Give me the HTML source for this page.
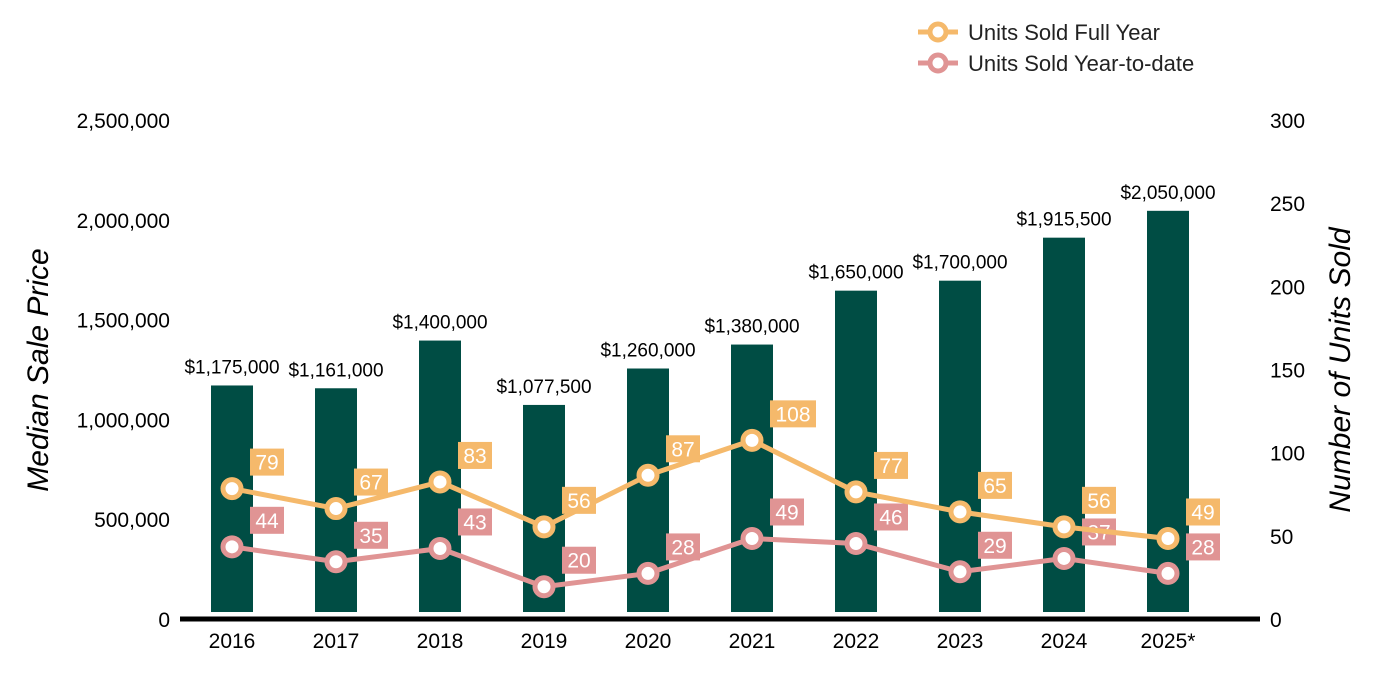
<!DOCTYPE html>
<html><head><meta charset="utf-8"><style>
body{margin:0;background:#fff;}
svg{display:block;font-family:"Liberation Sans",Arial,sans-serif;}
</style></head><body>
<svg id="chart" width="1400" height="700"></svg>
<script>
const years=["2016","2017","2018","2019","2020","2021","2022","2023","2024","2025*"];
const prices=[1175000,1161000,1400000,1077500,1260000,1380000,1650000,1700000,1915500,2050000];
const fullYear=[79,67,83,56,87,108,77,65,56,49];
const ytd=[44,35,43,20,28,49,46,29,37,28];
const leftTicks=[0,500000,1000000,1500000,2000000,2500000];
const rightTicks=[0,50,100,150,200,250,300];

const NS="http://www.w3.org/2000/svg";
const svg=document.getElementById('chart');
function el(t,a,txt){const e=document.createElementNS(NS,t);for(const k in a)e.setAttribute(k,a[k]);if(txt!==undefined)e.textContent=txt;svg.appendChild(e);return e;}
const y0=620,yTop=121;
const yL=v=>y0-(v/2500000)*(y0-yTop);
const yR=v=>y0-(v/300)*(y0-yTop);
const xC=i=>232+i*104;
const fmt=v=>v.toLocaleString('en-US');

leftTicks.forEach(v=>{const t=el('text',{x:170,y:yL(v)+7,'text-anchor':'end','font-size':21,fill:'#000'},fmt(v));
});
rightTicks.forEach(v=>{const t=el('text',{x:1270,y:yR(v)+7,'text-anchor':'start','font-size':21,fill:'#000'},String(v));
});

let t=el('text',{x:48,y:370,'text-anchor':'middle','font-size':30,'font-style':'italic',transform:'rotate(-90 48 370)'},'Median Sale Price');

t=el('text',{x:1350,y:370,'text-anchor':'middle','font-size':30,'font-style':'italic',transform:'rotate(-90 1350 370)'},'Number of Units Sold');


prices.forEach((p,i)=>{
 const b=el('rect',{x:xC(i)-21,y:yL(p),width:42,height:612-yL(p),fill:'#004D44'});
 
 const l=el('text',{x:xC(i),y:yL(p)-12,'text-anchor':'middle','font-size':19,fill:'#000'},'$'+fmt(p));
 
 const yl=el('text',{x:xC(i),y:648,'text-anchor':'middle','font-size':21,fill:'#000'},years[i]);
 
});
const ax=el('line',{x1:180,y1:619,x2:1260,y2:619,stroke:'#000','stroke-width':5});


function series(vals,color,name){
 const pl=el('polyline',{points:vals.map((v,i)=>xC(i)+','+yR(v)).join(' '),fill:'none',stroke:color,'stroke-width':5});
 
 vals.forEach((v,i)=>{
  const c=el('circle',{cx:xC(i),cy:yR(v),r:9,fill:'#fff',stroke:color,'stroke-width':5});
  
  const s=String(v),w=s.length*12+10,bx=xC(i)+18,by=yR(v)-40;
  const r=el('rect',{x:bx,y:by,width:w,height:27,fill:color});
  
  const tx=el('text',{x:bx+w/2,y:by+21,'text-anchor':'middle','font-size':21,fill:'#fff'},s);
  
 });
}
series(ytd,'#E09494','ytd');
series(fullYear,'#F5B96B','full-year');

[['Units Sold Full Year','#F5B96B',32],['Units Sold Year-to-date','#E09494',63]].forEach(([n,c,y])=>{
 const g=el('line',{x1:918,y1:y,x2:958,y2:y,stroke:c,'stroke-width':5});
 
 const ci=el('circle',{cx:938,cy:y,r:8,fill:'#fff',stroke:c,'stroke-width':5});
 
 const tx=el('text',{x:968,y:y+8,'font-size':22,fill:'#222'},n);
 
});
</script>
</body></html>
